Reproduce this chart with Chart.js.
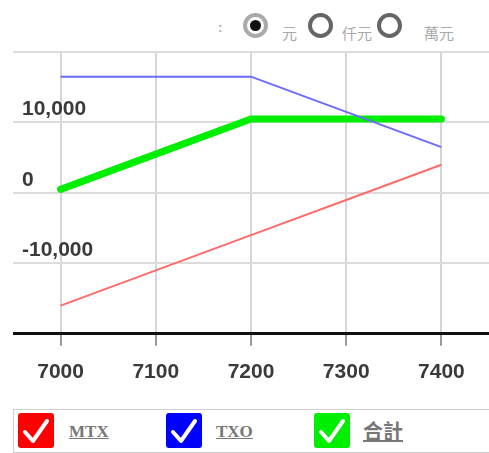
<!DOCTYPE html>
<html>
<head>
<meta charset="utf-8">
<script src="https://cdn.jsdelivr.net/npm/chart.js@4"></script>
<style>
  html, body { margin:0; padding:0; background:#fff; width:489px; height:453px; overflow:hidden; font-family:"Liberation Sans", Arial, sans-serif; }
  #wrap { position:absolute; left:13px; top:0; width:476px; height:400px; }
  .radio { position:absolute; top:13px; width:17px; height:17px; border:4px solid #666; border-radius:50%; box-sizing:content-box; }
  .radio.sel { border-color:#aaa; }
  .radio.sel::after { content:""; position:absolute; left:3px; top:3px; width:11px; height:11px; border-radius:50%; background:#111; }
  .rlabel { position:absolute; top:25px; font-size:15px; color:#aaa; font-family:"Noto Sans CJK TC", sans-serif; line-height:15px; }
  #legend { position:absolute; left:13px; top:409px; width:490px; height:44px; border:1px solid #d0d0d0; box-sizing:border-box; }
  .cb { position:absolute; top:3px; width:36px; height:35px; border-radius:3px; }
  .cb svg { position:absolute; left:0; top:0; }
  .lt { position:absolute; top:12px; font-size:17px; font-weight:bold; color:#777; text-decoration:underline; line-height:20px; font-family:"Liberation Serif", "Noto Sans CJK TC", serif; }
</style>
</head>
<body>
<div style="position:absolute;left:218px;top:20px;font-size:13px;font-weight:bold;color:#aaa;">:</div>
<div class="radio sel" style="left:243px;"></div>
<div class="rlabel" style="left:282px;">元</div>
<div class="radio" style="left:308px;"></div>
<div class="rlabel" style="left:342px;">仟元</div>
<div class="radio" style="left:377px;"></div>
<div class="rlabel" style="left:424px;">萬元</div>

<div id="wrap"><canvas id="c" width="476" height="400"></canvas></div>

<div id="legend"></div>

<script>
const categories = ['7000', '7100', '7200', '7300', '7400'];
const mtxValues = [-16000, -11000, -6000, -1000, 4000];
const txoValues = [16500, 16500, 16500, 11500, 6500];
const totalValues = [500, 5500, 10500, 10500, 10500];
const seriesNames = ['MTX', 'TXO', '合計'];
const seriesColors = ['#ff6b6b', '#6b6bff', '#00ee00'];
const legendColors = ['#ff0000', '#0000ff', '#00ee00'];
const yTicks = [-20000, -10000, 0, 10000, 20000];
const yShownLabels = ['10,000', '0', '-10,000'];

new Chart(document.getElementById('c'), {
  type: 'line',
  data: {
    labels: categories,
    datasets: [
      { label: seriesNames[0], data: mtxValues, borderColor: seriesColors[0], borderWidth: 2, pointRadius: 0, tension: 0 },
      { label: seriesNames[1], data: txoValues, borderColor: seriesColors[1], borderWidth: 2, pointRadius: 0, tension: 0 },
      { label: seriesNames[2], data: totalValues, borderColor: seriesColors[2], borderWidth: 7, pointRadius: 0, tension: 0, borderCapStyle: 'round' }
    ]
  },
  options: {
    responsive: false,
    animation: false,
    layout: { padding: { top: 52, bottom: 1, left: 0, right: 0 } },
    plugins: { legend: { display: false }, tooltip: { enabled: false } },
    scales: {
      x: {
        type: 'category',
        offset: true,
        afterFit: (s) => { s.paddingLeft = 0; s.paddingRight = 0; },
        grid: { offset: false, color: '#d6d6d6', lineWidth: 2, tickLength: 12, tickColor: '#999', tickWidth: 2 },
        border: { display: true, color: '#111', width: 3 },
        ticks: { color: '#3a3a3a', font: { size: 21, weight: 'bold', family: 'Liberation Sans' }, padding: 14, maxRotation: 0 }
      },
      y: {
        min: -20000, max: 20000,
        afterFit: (s) => { s.width = 0; },
        afterBuildTicks: (s) => { s.ticks = yTicks.map(v => ({ value: v })); },
        grid: { color: '#dcdcdc', lineWidth: 2, drawTicks: false },
        border: { display: false },
        ticks: {
          mirror: true, padding: 9, labelOffset: -13, color: '#3a3a3a',
          font: { size: 21, weight: 'bold', family: 'Liberation Sans' },
          callback: (v) => { const s = v.toLocaleString('en-US'); return yShownLabels.includes(s) ? s : ''; }
        }
      }
    }
  }
});

const legend = document.getElementById('legend');
const cbLeft = [4, 152, 300];
const txtLeft = [55, 202, 349];
const txtSize = [17, 17, 20];
seriesNames.forEach((n, i) => {
  const cb = document.createElement('div');
  cb.className = 'cb';
  cb.style.left = cbLeft[i] + 'px';
  cb.style.background = legendColors[i];
  cb.innerHTML = '<svg width="36" height="35"><polyline points="7,19 15,28 29,8" fill="none" stroke="#fff" stroke-width="4" stroke-linecap="round" stroke-linejoin="round"/></svg>';
  legend.appendChild(cb);
  const t = document.createElement('div');
  t.className = 'lt';
  t.style.left = txtLeft[i] + 'px';
  t.style.fontSize = txtSize[i] + 'px';
  t.textContent = n;
  legend.appendChild(t);
});
</script>
</body>
</html>
